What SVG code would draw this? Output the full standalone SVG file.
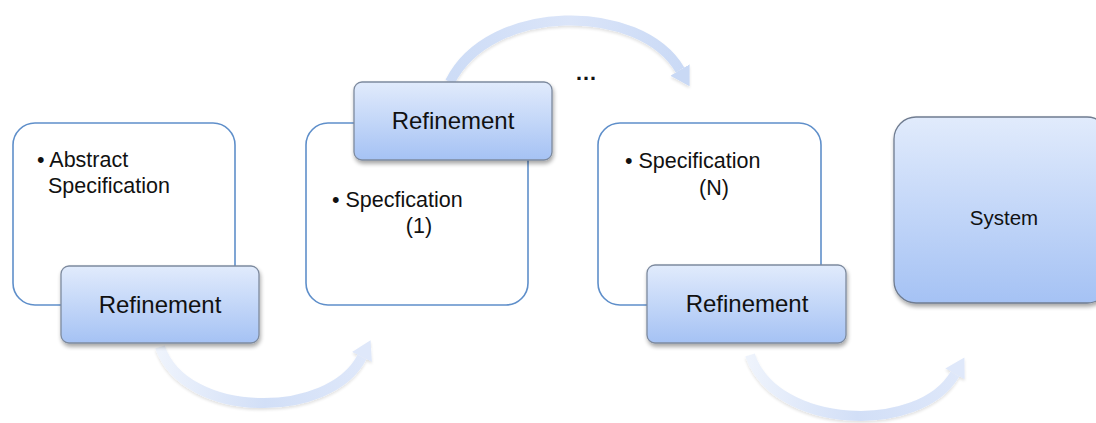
<svg xmlns="http://www.w3.org/2000/svg" width="1096" height="423" viewBox="0 0 1096 423">
<defs>
<linearGradient id="gBox" x1="0" y1="0" x2="0" y2="1">
<stop offset="0" stop-color="#e1ebfc"/>
<stop offset="1" stop-color="#a5c2f4"/>
</linearGradient>
<linearGradient id="gArrow1" gradientUnits="userSpaceOnUse" x1="160" y1="0" x2="370" y2="0">
<stop offset="0" stop-color="#eef3fc"/>
<stop offset="0.5" stop-color="#d2dff7"/>
<stop offset="1" stop-color="#dfe8fa"/>
</linearGradient>
<linearGradient id="gArrow2" gradientUnits="userSpaceOnUse" x1="450" y1="0" x2="690" y2="0">
<stop offset="0" stop-color="#cddcf6"/>
<stop offset="0.5" stop-color="#dbe5f9"/>
<stop offset="1" stop-color="#c9d9f5"/>
</linearGradient>
<linearGradient id="gArrow3" gradientUnits="userSpaceOnUse" x1="750" y1="0" x2="965" y2="0">
<stop offset="0" stop-color="#eef3fc"/>
<stop offset="0.5" stop-color="#d2dff7"/>
<stop offset="1" stop-color="#dfe8fa"/>
</linearGradient>
<filter id="shadow" x="-10%" y="-10%" width="125%" height="135%">
<feGaussianBlur in="SourceAlpha" stdDeviation="2"/>
<feOffset dx="1" dy="3" result="b"/>
<feComponentTransfer><feFuncA type="linear" slope="0.35"/></feComponentTransfer>
<feMerge><feMergeNode/><feMergeNode in="SourceGraphic"/></feMerge>
</filter>
<filter id="ashadow" x="-10%" y="-10%" width="120%" height="130%">
<feGaussianBlur in="SourceAlpha" stdDeviation="1.5"/>
<feOffset dx="0" dy="2"/>
<feComponentTransfer><feFuncA type="linear" slope="0.12"/></feComponentTransfer>
<feMerge><feMergeNode/><feMergeNode in="SourceGraphic"/></feMerge>
</filter>
<marker id="head1" markerUnits="userSpaceOnUse" markerWidth="20" markerHeight="24" refX="0" refY="10" orient="auto" viewBox="0 0 18 20">
<path d="M0,0 L17,10 L0,20 z" fill="#dfe8fa"/>
</marker>
<marker id="head2" markerUnits="userSpaceOnUse" markerWidth="20" markerHeight="24" refX="0" refY="10" orient="auto" viewBox="0 0 18 20">
<path d="M0,0 L17,10 L0,20 z" fill="#c9d9f5"/>
</marker>
<style>
.spec{fill:#ffffff;stroke:#5f8fca;stroke-width:1.6}
.ref{fill:url(#gBox);stroke:#7d8a9e;stroke-width:1.3}
.t{font-family:"Liberation Sans",Arial,sans-serif;fill:#111111}
.s{font-size:21.5px}
.r{font-size:24px;text-anchor:middle}
.arrow{fill:none;stroke-width:10;stroke-linecap:butt}
</style>
</defs>

<g id="connectors" filter="url(#ashadow)">
<path class="arrow" d="M160,347 C185,420 330,420 362,357" stroke="url(#gArrow1)" marker-end="url(#head1)"/>
<path class="arrow" d="M450,82 C490,2 640,2 680,70" stroke="url(#gArrow2)" marker-end="url(#head2)"/>
<path class="arrow" d="M750,355 C775,430 920,435 955,374" stroke="url(#gArrow3)" marker-end="url(#head1)"/>
</g>

<g id="spec-abstract">
<rect class="spec" x="13" y="123" width="222" height="182" rx="22"/>
<text class="t s" x="37" y="167">• Abstract</text>
<text class="t s" x="48" y="193">Specification</text>
</g>
<g id="refinement-1">
<rect class="ref" x="61" y="266" width="198" height="77" rx="8" filter="url(#shadow)"/>
<text class="t r" x="160" y="313">Refinement</text>
</g>

<g id="spec-1">
<rect class="spec" x="306" y="123" width="222" height="182" rx="22"/>
<text class="t s" x="332" y="207">• Specfication</text>
<text class="t s" x="419" y="233" text-anchor="middle">(1)</text>
</g>
<g id="refinement-2">
<rect class="ref" x="354" y="82" width="198" height="78" rx="8" filter="url(#shadow)"/>
<text class="t r" x="453" y="129">Refinement</text>
</g>

<g id="ellipsis">
<text class="t" x="586" y="80" font-size="22" text-anchor="middle" font-weight="bold">…</text>
</g>

<g id="spec-n">
<rect class="spec" x="598" y="123" width="223" height="182" rx="22"/>
<text class="t s" x="625" y="168">• Specification</text>
<text class="t s" x="714" y="195" text-anchor="middle">(N)</text>
</g>
<g id="refinement-3">
<rect class="ref" x="647" y="265" width="199" height="78" rx="8" filter="url(#shadow)"/>
<text class="t r" x="747" y="312">Refinement</text>
</g>

<g id="system">
<rect x="894" y="117" width="215" height="186" rx="22" fill="url(#gBox)" stroke="#6f7c90" stroke-width="1.3" filter="url(#shadow)"/>
<text class="t" x="1004" y="225" font-size="20.5" text-anchor="middle">System</text>
</g>
</svg>
